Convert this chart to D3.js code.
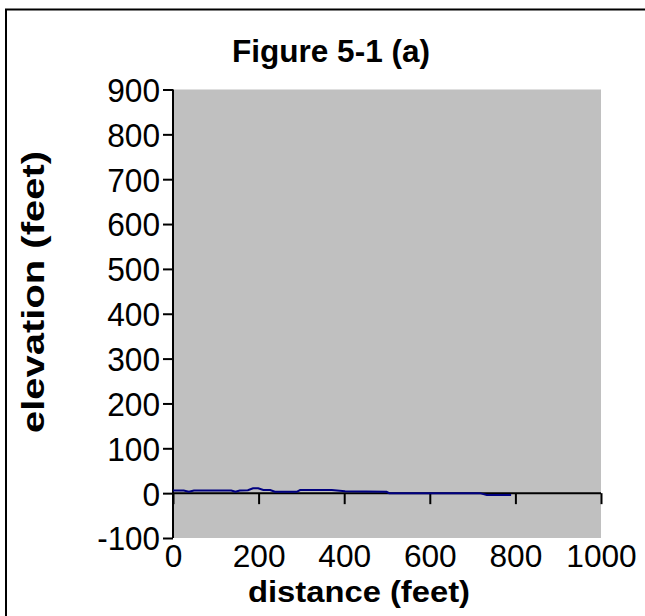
<!DOCTYPE html>
<html><head><meta charset="utf-8">
<script src="https://cdn.jsdelivr.net/npm/d3@7"></script>
<style>body{margin:0;background:#fff;} svg{display:block;}</style>
</head><body>
<svg id="c" width="645" height="616"></svg>
<script>
// Data
const distance  = [0, 25, 37, 49, 136, 146, 156, 175, 187, 199, 211, 227, 238, 289, 297, 371, 402, 499, 505, 717, 733, 790];
const elevation = [6, 6, 3, 6, 6, 3, 6, 6.5, 11, 11, 7, 7, 3, 3, 7, 7, 4, 3, 0, 0, -4, -4];
const xTicks = [0, 200, 400, 600, 800, 1000];
const yTicks = [-100, 0, 100, 200, 300, 400, 500, 600, 700, 800, 900];
const title = "Figure 5-1 (a)";
const xTitle = "distance (feet)";
const yTitle = "elevation (feet)";

const svg = d3.select("#c");
const font = "'Liberation Sans', Arial, sans-serif";
const fmt = d => String(d); // plain hyphen-minus as in the reference
const x = d3.scaleLinear().domain([0, 1000]).range([173, 601]);
const y = d3.scaleLinear().domain([-100, 900]).range([538, 89.5]);
const digitW = 17.6;
const labLen = s => s.replace(/-/g, "").length * digitW + (s.includes("-") ? 10 : 0);

// outer border (left & top visible)
svg.append("path").attr("d", "M6,616 V9.5 H645").attr("fill", "none").attr("stroke", "#000").attr("stroke-width", 2);

// plot area
svg.append("rect").attr("x", x(0)).attr("y", y(900)).attr("width", x(1000) - x(0)).attr("height", y(-100) - y(900)).attr("fill", "#C0C0C0");

// y axis
const yAxis = svg.append("g").attr("transform", `translate(${x(0)},0)`)
  .call(d3.axisLeft(y).tickValues(yTicks).tickSize(10).tickPadding(3).tickFormat(fmt));
yAxis.select(".domain").attr("d", `M0,${y(-100)}V${y(900)}`).attr("stroke-width", 2);
yAxis.selectAll(".tick line").attr("stroke-width", 2);
yAxis.selectAll("text").attr("font-family", font).attr("font-size", 33).attr("fill", "#000").attr("dy", "0.36em")
  .attr("textLength", d => labLen(fmt(d))).attr("lengthAdjust", "spacingAndGlyphs");

// x axis at y = 0
const xAxis = svg.append("g").attr("transform", `translate(0,${y(0)})`)
  .call(d3.axisBottom(x).tickValues(xTicks).tickSize(11).tickFormat(fmt));
xAxis.select(".domain").attr("d", `M${x(0)},0H${x(1000)}`).attr("stroke-width", 2);
xAxis.selectAll(".tick line").attr("stroke-width", 2);
xAxis.selectAll("text").attr("font-family", font).attr("font-size", 32).attr("fill", "#000")
  .attr("y", 567 - y(0)).attr("dy", 0)
  .attr("textLength", d => labLen(fmt(d))).attr("lengthAdjust", "spacingAndGlyphs");

// data line
const line = d3.line().x((d, i) => x(distance[i])).y(d => y(d));
svg.append("path").datum(elevation).attr("d", line).attr("fill", "none").attr("stroke", "#000080").attr("stroke-width", 2);

// titles
svg.append("text").attr("x", 331).attr("y", 62).attr("text-anchor", "middle")
  .attr("font-family", font).attr("font-weight", "bold").attr("font-size", 31)
  .attr("textLength", 198).attr("lengthAdjust", "spacingAndGlyphs").text(title);
svg.append("text").attr("x", 359).attr("y", 602).attr("text-anchor", "middle")
  .attr("font-family", font).attr("font-weight", "bold").attr("font-size", 30)
  .attr("textLength", 222).attr("lengthAdjust", "spacingAndGlyphs").text(xTitle);
svg.append("text").attr("transform", "translate(44,292) rotate(-90)").attr("text-anchor", "middle")
  .attr("font-family", font).attr("font-weight", "bold").attr("font-size", 32)
  .attr("textLength", 282).attr("lengthAdjust", "spacingAndGlyphs").text(yTitle);
</script>
</body></html>
